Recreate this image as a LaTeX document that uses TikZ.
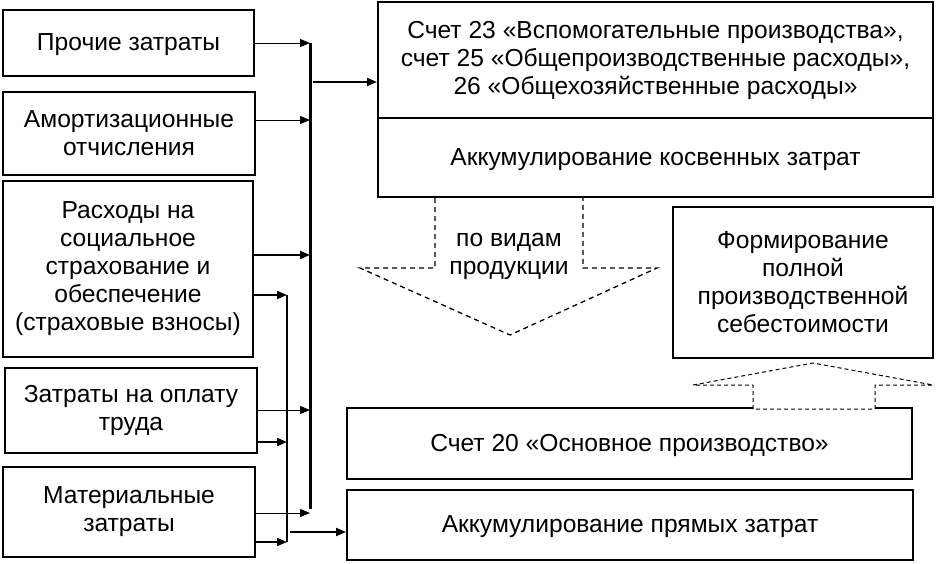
\documentclass[tikz,border=0pt]{standalone}
\usepackage{fontspec}
\setmainfont{Liberation Sans}
\usetikzlibrary{arrows.meta}

\begin{document}
\begin{tikzpicture}[x=1pt, y=-1pt,
  txt/.style={align=center, inner sep=0pt, font=\fontsize{24.6}{28}\selectfont},
  box/.style={txt, draw, line width=2pt, execute at begin node={\rule{0pt}{21pt}}},
  feed/.style={-{Triangle[length=10pt,width=8pt]}, line width=1pt},
  heavy/.style={-{Triangle[length=10pt,width=8pt]}, line width=2pt},
  hollow/.style={line width=1.3pt, dash pattern=on 5pt off 4pt},
  faint/.style={line width=1pt, dash pattern=on 4pt off 3pt}]
  \useasboundingbox (0,0) rectangle (936,563);

  \node[box, minimum width=251, minimum height=66] (prochie) at (128.5,43) {Прочие затраты};
  \node[box, minimum width=252, minimum height=83] (amort) at (129,133.5) {Амортизационные\\отчисления};
  \node[box, minimum width=250, minimum height=176] (soc) at (128,269) {Расходы на\\социальное\\страхование и\\обеспечение\\(страховые взносы)};
  \node[box, minimum width=252, minimum height=85] (oplata) at (131,410.5) {Затраты на оплату\\труда};
  \node[box, minimum width=252, minimum height=90] (mater) at (129,512) {Материальные\\затраты};

  \node[box, minimum width=555, minimum height=116] (schet23) at (655.5,60) {Счет 23 «Вспомогательные производства»,\\счет 25 «Общепроизводственные расходы»,\\26 «Общехозяйственные расходы»};
  \node[box, minimum width=555, minimum height=79] (kosv) at (655.5,157.5) {Аккумулирование косвенных затрат};
  \node[box, minimum width=260, minimum height=151] (formir) at (803,282.5) {Формирование\\полной\\производственной\\себестоимости};
  \node[box, minimum width=565, minimum height=71] (schet20) at (629.5,443.5) {Счет 20 «Основное производство»};
  \node[box, minimum width=566, minimum height=70] (akkpr) at (630,525) {Аккумулирование прямых затрат};

  \coordinate (a1) at (310,43);
  \coordinate (a2) at (310,120);
  \coordinate (a3) at (310,255);
  \coordinate (a4) at (310,410);
  \coordinate (a5) at (310,513);
  \coordinate (aend) at (310,509);
  \coordinate (a0) at (313,82);
  \coordinate (b3) at (287,295);
  \coordinate (b4) at (287,442);
  \coordinate (b5) at (287,542);
  \coordinate (b0) at (290,532);

  \draw[line width=3pt] (a1) -- (aend);
  \draw[line width=1.8pt] (b3) -- (b5);

  \draw[feed] (a1 -| prochie.east) -- (a1);
  \draw[feed] (a2 -| amort.east) -- (a2);
  \draw[heavy] (a3 -| soc.east) -- (a3);
  \draw[heavy] (b3 -| soc.east) -- (b3);
  \draw[feed] (a4 -| oplata.east) -- (a4);
  \draw[heavy] (b4 -| oplata.east) -- (b4);
  \draw[feed] (a5 -| mater.east) -- (a5);
  \draw[heavy] (b5 -| mater.east) -- (b5);
  \draw[heavy] (a0) -- (a0 -| schet23.west);
  \draw[heavy] (b0) -- (b0 -| akkpr.west);

  \draw[hollow] (435,198) -- (435,268) -- (360,268) -- (510,335) -- (657,268) -- (583,268) -- (583,198);
  \node[txt] (vidy) at (509,256) {по видам\\продукции};
  \draw[faint, fill=white] (753,409) -- (753,385) -- (693,385) -- (813,363) -- (933,385) -- (875,385) -- (875,409) -- cycle;
\end{tikzpicture}
\end{document}
